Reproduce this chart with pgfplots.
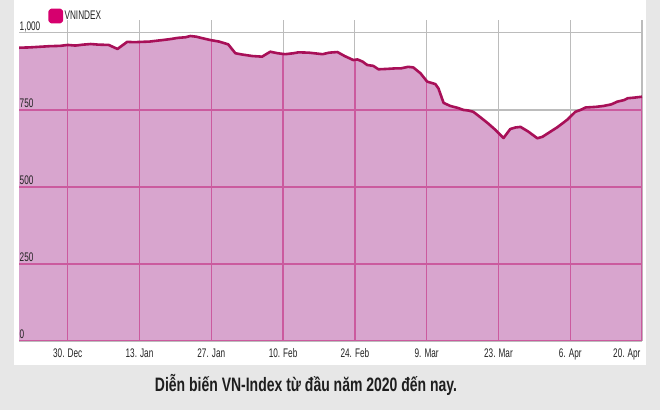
\documentclass[border=0pt]{standalone}
\usepackage{pgfplots}
\pgfplotsset{compat=1.18}
\usepackage{pgfplotstable}
\usepackage{fontspec}
\setmainfont{Liberation Sans}[FakeStretch=0.72]
\newfontfamily\narrowfont{Liberation Sans}[FakeStretch=0.66]
\definecolor{bggray}{RGB}{231,231,231}
\definecolor{fillpink}{RGB}{216,165,206}
\definecolor{gridmag}{RGB}{203,90,158}
\definecolor{gridgray}{RGB}{188,188,188}
\definecolor{linemag}{RGB}{168,16,88}
\definecolor{legmag}{RGB}{214,0,110}
\definecolor{txt}{RGB}{35,35,35}

\pgfplotstableread{
d v
-9.5 952
-7.5 953
-5.5 955
-3.5 957
-1.5 958
0 961
1.5 959
3 962
4.5 964
6 962
8 961
9.7 948
11.6 971
13 970
14.5 971
16 972
17.5 975
18.6 977
20 980
21.5 984
23 986
23.9 990
25 988
26.5 982
27.8 977
29.5 972
31.3 963
32.7 934
34 930
36 925
37.9 923
39.5 939
41 934
42.4 931
44 934
45 937
47 936
49.7 931
51 936
52.6 938
54 925
55.7 912
56.5 914
57.5 907
58.4 896
59.6 893
60.6 882
62 883
64 885
65 885
66.4 890
67.4 888
68.8 869
70.1 842
71.7 834
72.3 820
73.3 773
74.6 763
76 757
77.2 750
78.2 748
79.1 744
80.5 726
82 706
83.5 684
85 659
86.3 688
87.3 693
88.3 695
89.8 680
91.6 658
92.6 663
94 678
95.5 694
97.4 718
99 744
100 750
101 758
103 760
104.5 763
106 768
107.2 777
108.5 782
109.2 788
110.5 790
112 793
}\vnindex

\begin{document}
\begin{tikzpicture}[yl/.style={anchor=base west, inner sep=0.5bp, yshift=2.5bp, font=\narrowfont\fontsize{12.5}{14}\selectfont, text=txt}]
\fill[bggray] (0,0) rectangle (660bp,410bp);
\fill[white] (14bp,45bp) rectangle (646bp,410bp);
\begin{axis}[
  at={(19bp,69bp)}, anchor=south west,
  scale only axis, width=623bp, height=321bp,
  xmin=-9.5, xmax=112, ymin=0, ymax=1042,
  axis line style={draw=none},
  major tick length=0pt,
  /pgf/number format/assume math mode=true,
  xtick={0,14,...,98},
  xticklabels={30. Dec,13. Jan,27. Jan,10. Feb,24. Feb,9. Mar,23. Mar,6. Apr},
  extra x ticks={112}, extra x tick labels={20. Apr},
  extra x tick style={xticklabel style={anchor=base east, xshift=2bp}},
  ytick={0,250,500,750,1000}, yticklabels={\empty,\empty,\empty,\empty,\empty},
  yticklabel style={overlay, inner sep=0pt},
  xticklabel style={anchor=base, yshift=-17bp},
  tick label style={font=\narrowfont\fontsize{12.5}{14}\selectfont, text=txt},
  grid=major, major grid style={gridgray, line width=1.1bp},
  legend style={at={(axis description cs:0.047,1.0125)}, anchor=west, draw=none, fill=none,
    font=\narrowfont\fontsize{12.5}{14}\selectfont, inner sep=0pt, nodes={inner sep=1.5bp, text=txt}},
  legend cell align=left,
  legend image code/.code={\fill[legmag, rounded corners=1.5bp] (0bp,-6bp) rectangle (12bp,6bp);},
  mg/.style={forget plot, gridmag, line width=1.3bp},
]
\addplot[forget plot, draw=none, fill=fillpink] table[x=d, y=v] {\vnindex} \closedcycle;
% grid lines seen through the filled area
\addplot[mg] coordinates {(-9.5,0) (112,0)};
\addplot[mg] coordinates {(-9.5,250) (112,250)};
\addplot[mg] coordinates {(-9.5,500) (112,500)};
\addplot[mg] coordinates {(-9.5,750) (77.2,750)};
\addplot[mg] coordinates {(100,750) (112,750)};
\addplot[mg] coordinates {(0,0) (0,961)};
\addplot[mg] coordinates {(14,0) (14,971)};
\addplot[mg] coordinates {(28,0) (28,976)};
\addplot[mg] coordinates {(42,0) (42,932)};
\addplot[mg] coordinates {(56,0) (56,913)};
\addplot[mg] coordinates {(70,0) (70,844)};
\addplot[mg] coordinates {(84,0) (84,676)};
\addplot[mg] coordinates {(98,0) (98,728)};
\addplot[mg] coordinates {(112,0) (112,793)};
\addplot[linemag, line width=2.6bp, line join=round] table[x=d, y=v] {\vnindex};
\addlegendentry{VNINDEX}
\node[yl] at (axis cs:-9.5,0) {0};
\node[yl] at (axis cs:-9.5,250) {250};
\node[yl] at (axis cs:-9.5,500) {500};
\node[yl] at (axis cs:-9.5,750) {750};
\node[yl] at (axis cs:-9.5,1000) {1,000};
\end{axis}
\node[font=\fontsize{19.5}{21}\selectfont\bfseries, text={rgb,255:red,30;green,30;blue,30}] at (306bp,25bp) {Diễn biến VN-Index từ đầu năm 2020 đến nay.};
\end{tikzpicture}
\end{document}
